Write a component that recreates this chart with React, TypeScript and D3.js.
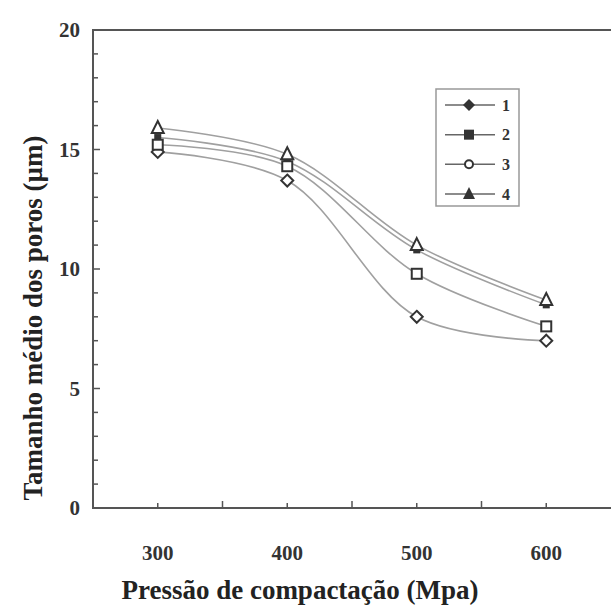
import React from "react";
import * as d3 from "d3";

const pressures = [300, 400, 500, 600];
const serie1 = [14.9, 13.7, 8.0, 7.0];
const serie2 = [15.5, 14.5, 10.8, 8.5];
const serie3 = [15.2, 14.3, 9.8, 7.6];
const serie4 = [15.9, 14.8, 11.0, 8.7];
const seriesNames = ["1", "2", "3", "4"];
const xTickLabels = [300, 400, 500, 600];
const yTickLabels = [0, 5, 10, 15, 20];

const W = 612;
const H = 606;
const font = "'Liberation Serif', 'Times New Roman', serif";
const ink = "#333";

const Marker = ({ kind, x, y }) => {
  if (kind === 0) {
    return (
      <path
        d={`M${x},${y - 6} L${x + 6},${y} L${x},${y + 6} L${x - 6},${y} Z`}
        fill="#fff"
        stroke={ink}
        strokeWidth={2}
      />
    );
  }
  if (kind === 1) {
    return <rect x={x - 3.5} y={y - 3.5} width={7} height={7} fill={ink} />;
  }
  if (kind === 2) {
    return (
      <rect x={x - 5} y={y - 5} width={10} height={10} fill="#fff" stroke={ink} strokeWidth={2} />
    );
  }
  return (
    <path
      d={`M${x},${y - 7} L${x + 6},${y + 5} L${x - 6},${y + 5} Z`}
      fill="#fff"
      stroke={ink}
      strokeWidth={2}
    />
  );
};

const LegendMarker = ({ kind, x, y }) => {
  if (kind === 0) {
    return <path d={`M${x},${y - 6} L${x + 6},${y} L${x},${y + 6} L${x - 6},${y} Z`} fill={ink} />;
  }
  if (kind === 1) {
    return <rect x={x - 5} y={y - 5} width={10} height={10} fill={ink} />;
  }
  if (kind === 2) {
    return <circle cx={x} cy={y} r={4} fill="#fff" stroke={ink} strokeWidth={2} />;
  }
  return <path d={`M${x},${y - 7} L${x + 6},${y + 5} L${x - 6},${y + 5} Z`} fill={ink} />;
};

const App = () => {
  const x = d3.scaleLinear().domain([250, 650]).range([93, 611]);
  const y = d3.scaleLinear().domain([0, 20]).range([508, 30]);
  const series = [serie1, serie2, serie3, serie4];

  const line = d3
    .line<number>()
    .x((d, i) => x(pressures[i]))
    .y(d => y(d))
    .curve(d3.curveCatmullRom.alpha(0.5));

  const legendY = d3.scalePoint().domain(seriesNames).range([105, 194]);

  return (
    <div style={{ position: "absolute", left: 0, top: 0 }}>
      <svg width={W} height={H} style={{ display: "block", background: "#fff" }}>
        {/* frame */}
        <path
          d={`M${x(650)},${y(20)} L${x(250)},${y(20)} L${x(250)},${y(0)} L${x(650)},${y(0)}`}
          fill="none"
          stroke="#555"
          strokeWidth={2}
        />
        {/* y ticks */}
        {d3.range(1, 20).map(v => (
          <line
            key={"yt" + v}
            x1={x(250)}
            x2={x(250) + (v % 5 === 0 ? 7 : 5)}
            y1={y(v)}
            y2={y(v)}
            stroke="#555"
            strokeWidth={1.5}
          />
        ))}
        {/* x ticks */}
        {d3.range(300, 650, 50).map(v => (
          <line
            key={"xt" + v}
            x1={x(v)}
            x2={x(v)}
            y1={y(0)}
            y2={y(0) - (v % 100 === 50 ? 7 : 5)}
            stroke="#555"
            strokeWidth={1.5}
          />
        ))}
        {yTickLabels.map(v => (
          <text
            key={"yl" + v}
            x={80}
            y={y(v)}
            textAnchor="end"
            dominantBaseline="central"
            fontFamily={font}
            fontWeight="bold"
            fontSize={21}
            fill={ink}
          >
            {v}
          </text>
        ))}
        {xTickLabels.map(v => (
          <text
            key={"xl" + v}
            x={x(v)}
            y={553}
            textAnchor="middle"
            dominantBaseline="central"
            fontFamily={font}
            fontWeight="bold"
            fontSize={21}
            fill={ink}
          >
            {v}
          </text>
        ))}
        <text
          transform={`translate(42, 318) rotate(-90)`}
          textAnchor="middle"
          fontFamily={font}
          fontWeight="bold"
          fontSize={27}
          fill="#222"
        >
          Tamanho médio dos poros (µm)
        </text>
        <text
          x={300}
          y={599}
          textAnchor="middle"
          fontFamily={font}
          fontWeight="bold"
          fontSize={27}
          fill="#222"
        >
          Pressão de compactação (Mpa)
        </text>

        {/* lines */}
        {series.map((s, k) => (
          <path key={"l" + k} d={line(s) || ""} fill="none" stroke="#a0a0a0" strokeWidth={1.6} />
        ))}
        {series.map((s, k) =>
          s.map((v, i) => <Marker key={`m${k}-${i}`} kind={k} x={x(pressures[i])} y={y(v)} />)
        )}

        {/* legend */}
        <rect x={436} y={89} width={83} height={117} fill="none" stroke="#999" strokeWidth={1.5} />
        {seriesNames.map((n, k) => (
          <g key={"lg" + n}>
            <line x1={445} x2={495} y1={legendY(n)} y2={legendY(n)} stroke="#666" strokeWidth={1.5} />
            <LegendMarker kind={k} x={469} y={legendY(n)} />
            <text
              x={502}
              y={legendY(n)}
              dominantBaseline="central"
              fontFamily={font}
              fontWeight="bold"
              fontSize={16}
              fill={ink}
            >
              {n}
            </text>
          </g>
        ))}
      </svg>
    </div>
  );
};

export default App;
